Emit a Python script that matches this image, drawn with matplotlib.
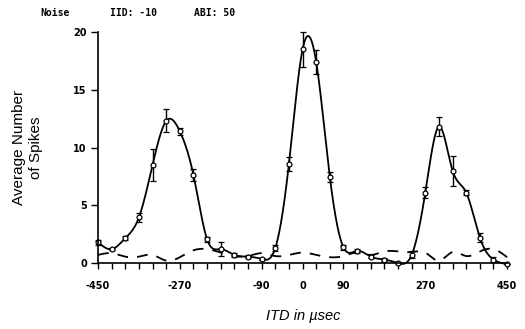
import numpy as np
import matplotlib
matplotlib.use("Agg")
import matplotlib.pyplot as plt

# ---- data ----
itd = [-450, -420, -390, -360, -330, -300, -270, -240, -210, -180, -150, -120, -90, -60, -30,
       0, 30, 60, 90, 120, 150, 180, 210, 240, 270, 300, 330, 360, 390, 420, 450]
spikes = [1.8, 1.2, 2.15, 3.95, 8.5, 12.3, 11.4, 7.6, 2.05, 1.2, 0.7, 0.55, 0.35, 1.3, 8.6,
          18.5, 17.4, 7.45, 1.35, 1.05, 0.55, 0.3, 0.0, 0.7, 6.1, 11.8, 8.0, 6.1, 2.2, 0.3, -0.1]
spikes_err = [0.2, 0.1, 0.2, 0.4, 1.4, 1.0, 0.3, 0.5, 0.2, 0.6, 0.2, 0.1, 0.1, 0.3, 0.6,
              1.5, 1.0, 0.4, 0.2, 0.2, 0.1, 0.1, 0.1, 0.3, 0.5, 0.8, 1.3, 0.2, 0.4, 0.2, 0.0]
spont = [0.7, 0.85, 0.55, 0.55, 0.7, 0.2, 0.5, 1.1, 1.2, 0.9, 0.6, 0.6, 0.85, 0.6, 0.7,
         0.9, 0.7, 0.5, 0.6, 0.9, 0.7, 1.0, 1.0, 0.95, 0.9, 0.2, 0.95, 0.6, 1.0, 1.2, 0.5]
xtick_labels = [-450, -270, -90, 0, 90, 270, 450]
yticks = [0, 5, 10, 15, 20]
header = ["Noise", "IID: -10", "ABI: 50"]


def natural_spline(x, y, n=800):
    x = np.asarray(x, float); y = np.asarray(y, float)
    k = len(x); h = np.diff(x)
    A = np.zeros((k, k)); b = np.zeros(k)
    A[0, 0] = A[-1, -1] = 1
    for i in range(1, k - 1):
        A[i, i - 1] = h[i - 1]; A[i, i] = 2 * (h[i - 1] + h[i]); A[i, i + 1] = h[i]
        b[i] = 3 * ((y[i + 1] - y[i]) / h[i] - (y[i] - y[i - 1]) / h[i - 1])
    c = np.linalg.solve(A, b)
    xs = np.linspace(x[0], x[-1], n)
    idx = np.clip(np.searchsorted(x, xs) - 1, 0, k - 2)
    dx = xs - x[idx]
    bb = (y[1:] - y[:-1]) / h - h * (2 * c[:-1] + c[1:]) / 3
    d = (c[1:] - c[:-1]) / (3 * h)
    ys = y[idx] + bb[idx] * dx + c[idx] * dx ** 2 + d[idx] * dx ** 3
    return xs, ys


fig = plt.figure(figsize=(5.25, 3.29), dpi=100)
ax = fig.add_axes([0.1867, 0.2006, 0.7810, 0.7021])

xs, ys = natural_spline(itd, spikes)
ax.plot(xs, ys, color="black", lw=1.3, clip_on=False)
ax.errorbar(itd, spikes, yerr=spikes_err, fmt="o", ms=3.5, mfc="white", mec="black",
            mew=0.9, ecolor="black", elinewidth=1.0, capsize=2.5, capthick=1.0, clip_on=False)
xs2, ys2 = natural_spline(itd, spont)
ax.plot(xs2, ys2, color="black", lw=1.3, ls=(0, (6, 5)), clip_on=False)

ax.set_xlim(-450, 452)
ax.set_ylim(0, 20)
for s in ["top", "right"]:
    ax.spines[s].set_visible(False)
ax.spines["left"].set_linewidth(1.2)
ax.spines["bottom"].set_linewidth(1.2)

ax.set_xticks(np.arange(-450, 451, 30))
ax.set_xticklabels([str(v) if v in xtick_labels else "" for v in range(-450, 451, 30)],
                   fontsize=7, fontweight="bold")
ax.set_yticks(yticks)
ax.set_yticklabels([str(v) for v in yticks], fontsize=7, fontweight="bold")
ax.tick_params(axis="x", direction="out", length=4, width=1.0, pad=9)
ax.tick_params(axis="y", direction="out", length=5, width=1.0, pad=3)

ax.set_ylabel("Average Number\nof Spikes", fontsize=11, family="Liberation Sans",
              labelpad=22, linespacing=1.3)
ax.set_xlabel("ITD in \u00b5sec", fontsize=10.5, family="Liberation Sans", style="italic", labelpad=13)

for txt, xp in zip(header, [0.076, 0.21, 0.37]):
    fig.text(xp, 0.962, txt, fontsize=7, fontweight="bold", family="DejaVu Sans Mono", va="center")

fig.savefig("out.png", dpi=100)
